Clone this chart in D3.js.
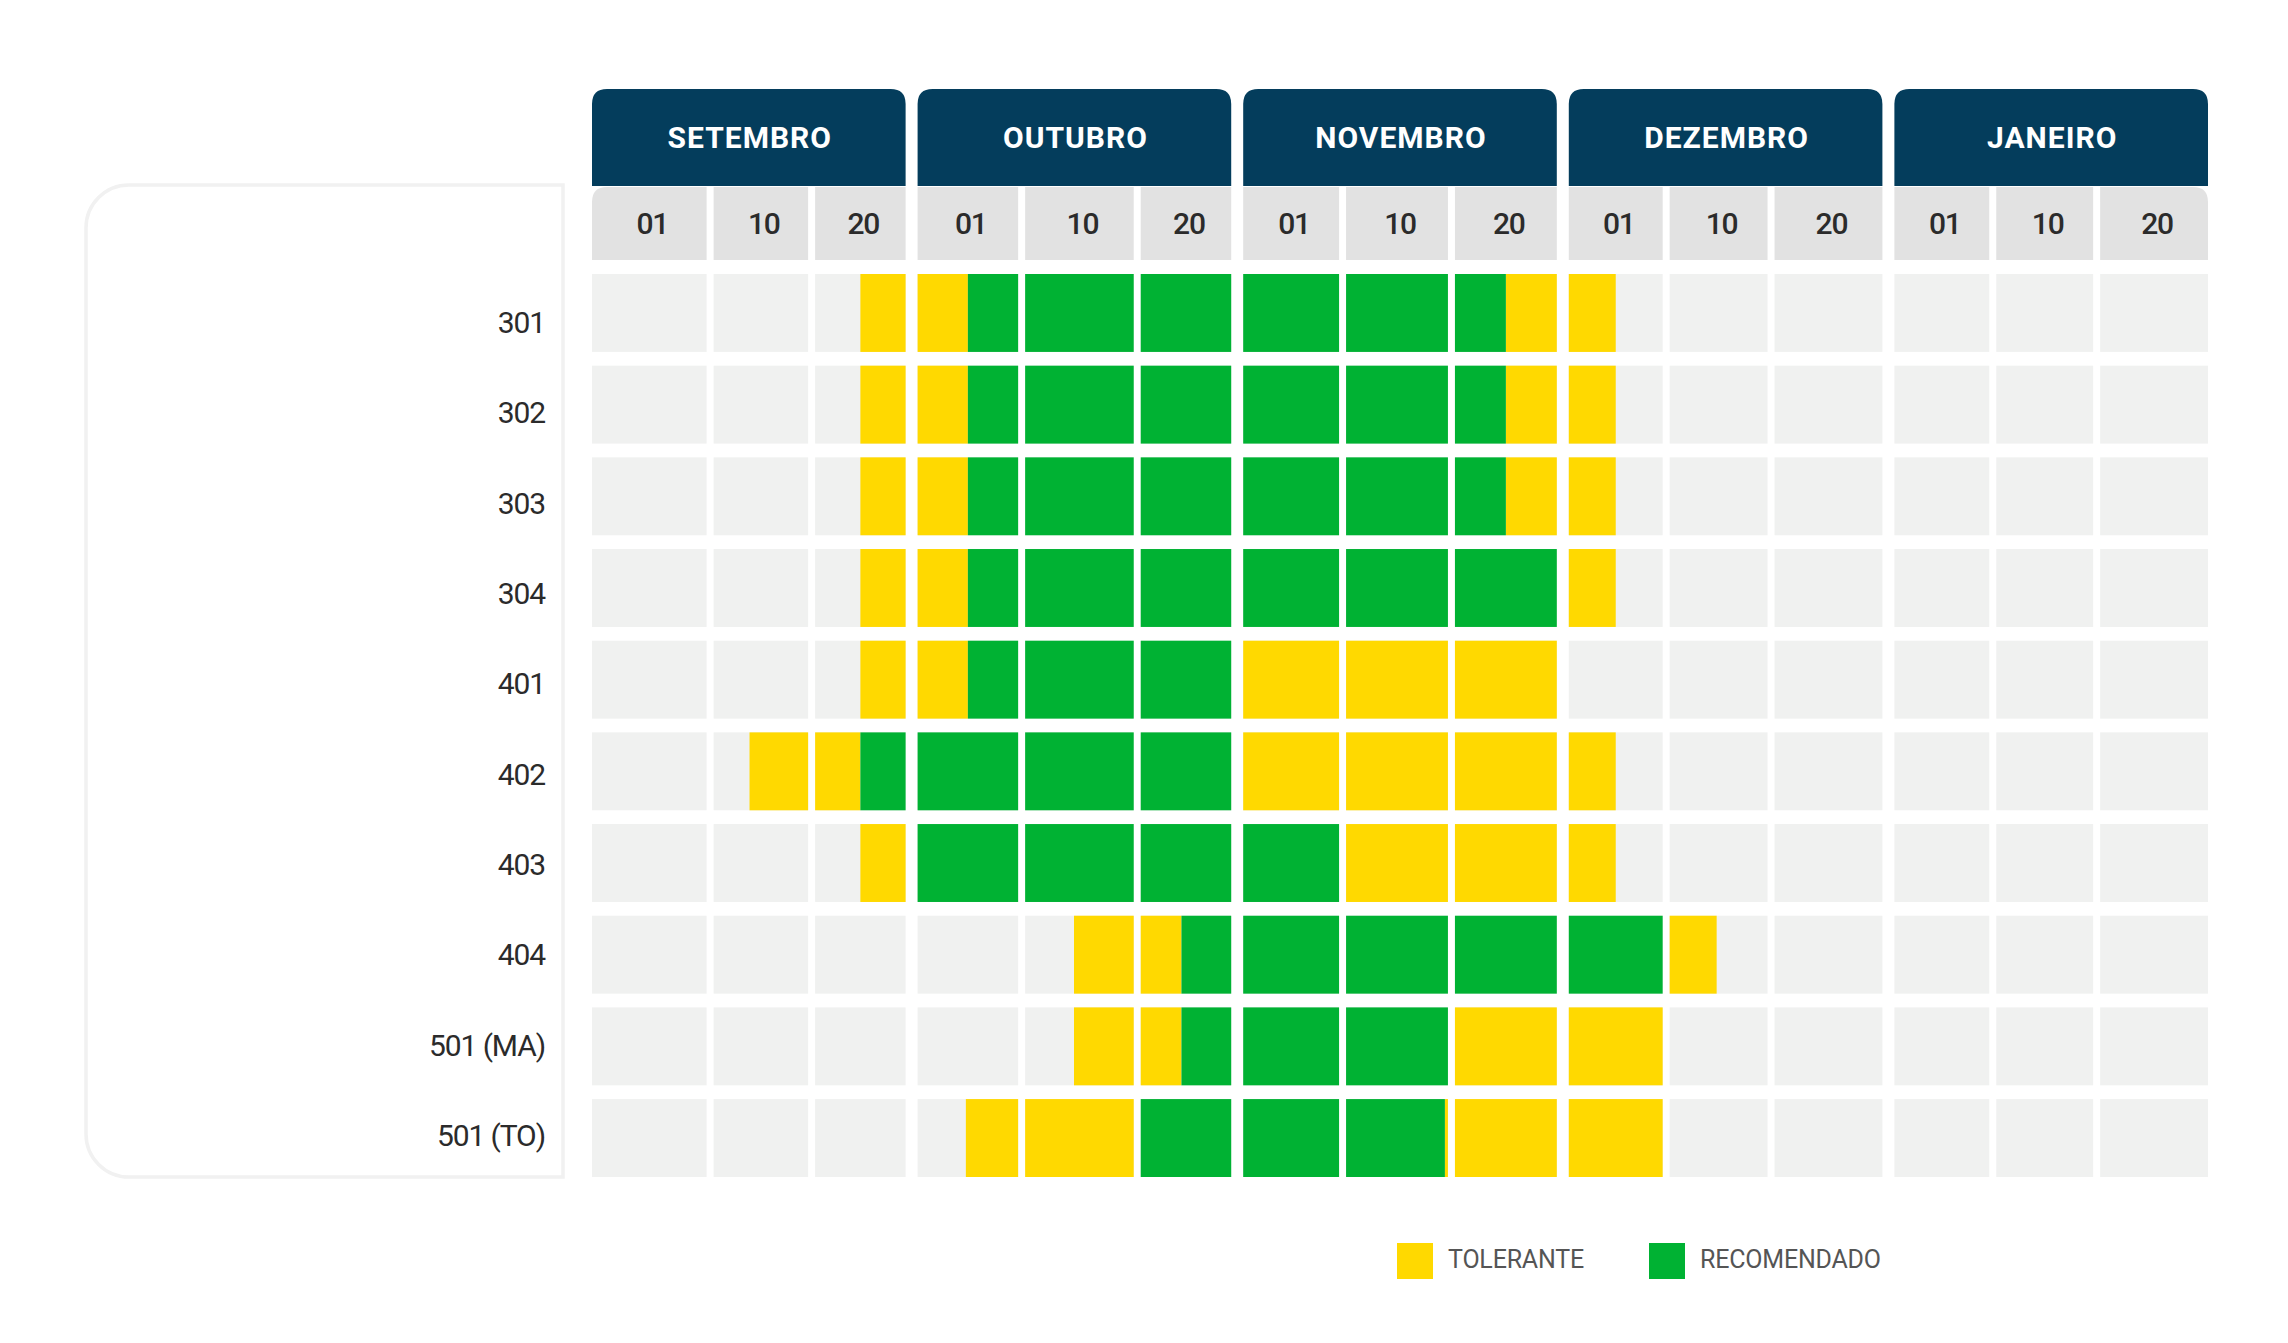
<!DOCTYPE html>
<html>
<head>
<meta charset="utf-8">
<script src="https://cdn.jsdelivr.net/npm/d3@7"></script>
<style>
  html, body { margin: 0; padding: 0; background: #ffffff; }
  svg { display: block; }
</style>
</head>
<body>
<svg id="chart" width="2288" height="1343"></svg>
<script>
// ---------------- DATA ----------------
const months = ["SETEMBRO", "OUTUBRO", "NOVEMBRO", "DEZEMBRO", "JANEIRO"];
const days = ["01", "10", "20"];
const cultivars = ["301", "302", "303", "304", "401", "402", "403", "404", "501 (MA)", "501 (TO)"];
// Periods are counted in decendial cells: 0 = SET 01, 1 = SET 10, ... 14 = JAN 20
const tolerante = [
  [[2.5, 3.5], [8.5, 9.5]],
  [[2.5, 3.5], [8.5, 9.5]],
  [[2.5, 3.5], [8.5, 9.5]],
  [[2.5, 3.5], [9, 9.5]],
  [[2.5, 3.5], [6, 9]],
  [[1.38, 2.5], [6, 9.5]],
  [[2.5, 3], [7, 9.5]],
  [[4.45, 5.45], [10, 10.48]],
  [[4.45, 5.45], [8, 10]],
  [[3.48, 5], [7.97, 10]]
];
const recomendado = [
  [[3.5, 8.5]],
  [[3.5, 8.5]],
  [[3.5, 8.5]],
  [[3.5, 9]],
  [[3.5, 6]],
  [[2.5, 6]],
  [[3, 7]],
  [[5.45, 10]],
  [[5.45, 8]],
  [[5, 7.97]]
];
const legendLabels = ["TOLERANTE", "RECOMENDADO"];

// ---------------- LAYOUT / STYLE ----------------
const COLORS = { tol: "#ffd900", rec: "#00b233", empty: "#f0f1f0", day: "#e2e2e2", navy: "#043d5c" };
const CELL_WEIGHTS = [[114, 94, 90], [100, 108, 90], [96, 102, 102], [94, 98, 108], [95, 97, 108]];
const CELL_GAP = 7;

const svg = d3.select("#chart");
svg.append("rect").attr("width", 2288).attr("height", 1343).attr("fill", "#fff");

const xMonth = d3.scaleBand().domain(months).range([592, 2208]).paddingInner(0.0368);
const yRow = d3.scaleBand().domain(cultivars).range([274, 1177]).paddingInner(0.15);
const yLabel = d3.scalePoint().domain(cultivars).range([333, 1146]);

// build the cells (month x day) and a linear scale for each one
const cells = [];
months.forEach((m, mi) => {
  const w = CELL_WEIGHTS[mi];
  const avail = xMonth.bandwidth() - CELL_GAP * (days.length - 1);
  const sum = d3.sum(w);
  let x = xMonth(m);
  days.forEach((d, di) => {
    const cw = avail * w[di] / sum;
    const idx = mi * days.length + di;
    cells.push({ month: m, day: d, idx, x0: x, x1: x + cw,
      scale: d3.scaleLinear().domain([idx, idx + 1]).range([x, x + cw]) });
    x += cw + CELL_GAP;
  });
});

function topRounded(x, y, w, h, rl, rr) {
  return `M${x},${y + h} L${x},${y + rl} Q${x},${y} ${x + rl},${y} L${x + w - rr},${y} Q${x + w},${y} ${x + w},${y + rr} L${x + w},${y + h} Z`;
}

// left panel
const pL = 86, pR = 563, pT = 185, pB = 1177, pr = 43;
svg.append("path")
  .attr("d", `M${pR},${pT} L${pL + pr},${pT} A${pr},${pr} 0 0 0 ${pL},${pT + pr} L${pL},${pB - pr} A${pr},${pr} 0 0 0 ${pL + pr},${pB} L${pR},${pB} Z`)
  .attr("fill", "#fff").attr("stroke", "#f1f1f1").attr("stroke-width", 3.5);

// month headers
const hTop = 89, hBot = 186;
const mg = svg.append("g");
mg.selectAll("path").data(months).join("path")
  .attr("d", m => topRounded(xMonth(m), hTop, xMonth.bandwidth(), hBot - hTop, 15, 15))
  .attr("fill", COLORS.navy);
mg.selectAll("text").data(months).join("text")
  .attr("x", m => xMonth(m) + xMonth.bandwidth() / 2 + 1)
  .attr("y", 148)
  .attr("text-anchor", "middle")
  .attr("font-family", "Roboto, sans-serif")
  .attr("font-weight", 700)
  .attr("font-size", 30)
  .attr("letter-spacing", 1)
  .attr("fill", "#fff")
  .text(m => m);

// day headers
const dTop = 187, dBot = 260;
const dg = svg.append("g");
dg.selectAll("path").data(cells).join("path")
  .attr("d", c => topRounded(c.x0, dTop, c.x1 - c.x0, dBot - dTop,
    c.idx === 0 ? 15 : 0, c.idx === cells.length - 1 ? 15 : 0))
  .attr("fill", COLORS.day);
dg.selectAll("text").data(cells).join("text")
  .attr("x", c => (c.x0 + c.x1) / 2 + 3)
  .attr("y", 234)
  .attr("text-anchor", "middle")
  .attr("font-family", "Roboto, sans-serif")
  .attr("font-weight", 500)
  .attr("font-size", 30)
  .attr("letter-spacing", -1.2)
  .attr("fill", "#2b2b2b")
  .text(c => c.day);

// grid
const gg = svg.append("g");
cultivars.forEach((cv, ri) => {
  const y = yRow(cv), h = yRow.bandwidth();
  gg.selectAll(null).data(cells).join("rect")
    .attr("x", c => c.x0).attr("y", y)
    .attr("width", c => c.x1 - c.x0).attr("height", h)
    .attr("fill", COLORS.empty);
  const segs = [];
  [[tolerante[ri], COLORS.tol], [recomendado[ri], COLORS.rec]].forEach(([list, col]) => {
    list.forEach(([s, e]) => {
      cells.forEach(c => {
        const a = Math.max(s, c.idx), b = Math.min(e, c.idx + 1);
        if (b > a) segs.push({ c, a, b, col });
      });
    });
  });
  gg.selectAll(null).data(segs).join("rect")
    .attr("x", d => d.c.scale(d.a)).attr("y", y)
    .attr("width", d => d.c.scale(d.b) - d.c.scale(d.a)).attr("height", h)
    .attr("fill", d => d.col);
});

// row labels
svg.append("g").selectAll("text").data(cultivars).join("text")
  .attr("x", 545)
  .attr("y", d => yLabel(d))
  .attr("text-anchor", "end")
  .attr("font-family", "Roboto, sans-serif")
  .attr("font-size", 30)
  .attr("letter-spacing", -1.1)
  .attr("fill", "#2b2b2b")
  .text(d => d);

// legend
const legendColors = [COLORS.tol, COLORS.rec];
const legendX = d3.scalePoint().domain(legendLabels).range([1397, 1649]);
const lg = svg.append("g").selectAll("g").data(legendLabels).join("g")
  .attr("transform", d => `translate(${legendX(d)},1243)`);
lg.append("rect").attr("width", 36).attr("height", 36).attr("fill", (d, i) => legendColors[i]);
lg.append("text").attr("x", 51).attr("y", 25)
  .attr("font-family", "Roboto, sans-serif")
  .attr("font-size", 25)
  .attr("letter-spacing", -0.2)
  .attr("fill", "#555555")
  .text(d => d);
</script>
</body>
</html>
